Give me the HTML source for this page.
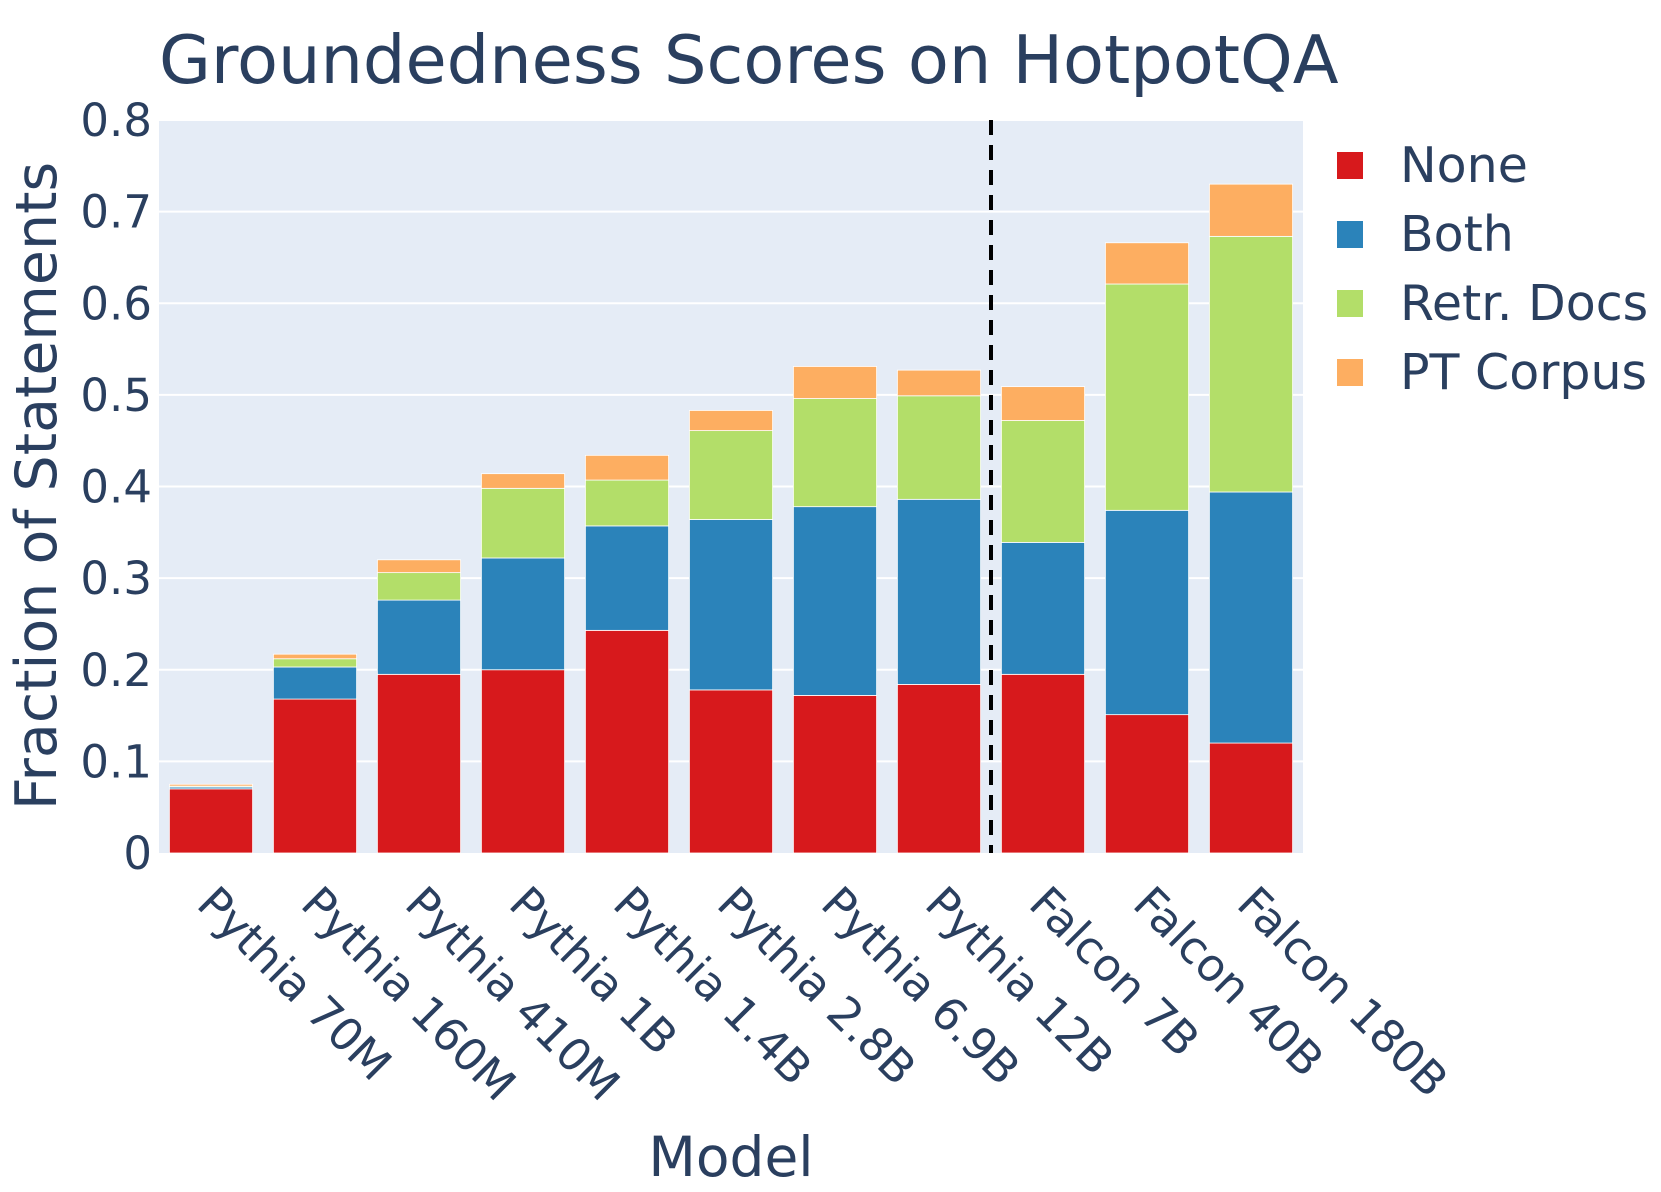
<!DOCTYPE html>
<html><head><meta charset="utf-8"><style>
body{margin:0;background:#fff;}
svg text{font-family:"DejaVu Sans","Liberation Sans",sans-serif;fill:#2a3f5f;}
</style></head><body>
<svg id="chart" width="1661" height="1187" xmlns="http://www.w3.org/2000/svg">
<rect width="1661" height="1187" fill="#fff"/>
<text x="159" y="83" font-size="67">Groundedness Scores on HotpotQA</text>
<rect x="159" y="120" width="1144" height="733" fill="#e5ecf6"/>
<g id="grid"></g><g id="bars"></g><g id="xt"></g>
<line x1="991" x2="991" y1="120" y2="853" stroke="#000" stroke-width="4" stroke-dasharray="15,10"/>
<text transform="translate(56,486) rotate(-90)" text-anchor="middle" font-size="57">Fraction of Statements</text>
<text x="731" y="1176" text-anchor="middle" font-size="55">Model</text>
<g id="legend"></g>
</svg>
<script>
const categories=["Pythia 70M","Pythia 160M","Pythia 410M","Pythia 1B","Pythia 1.4B","Pythia 2.8B","Pythia 6.9B","Pythia 12B","Falcon 7B","Falcon 40B","Falcon 180B"];
const noneVals=[0.070,0.168,0.195,0.200,0.243,0.178,0.172,0.184,0.195,0.151,0.120];
const bothVals=[0.002,0.035,0.081,0.122,0.114,0.186,0.206,0.202,0.144,0.223,0.274];
const retrVals=[0.001,0.009,0.030,0.076,0.050,0.097,0.118,0.113,0.133,0.247,0.279];
const ptVals=[0.002,0.005,0.014,0.016,0.027,0.022,0.035,0.028,0.037,0.045,0.057];
const seriesNames=["None","Both","Retr. Docs","PT Corpus"];
const yTicks=[0,0.1,0.2,0.3,0.4,0.5,0.6,0.7,0.8];
const yTickLabels=["0","0.1","0.2","0.3","0.4","0.5","0.6","0.7","0.8"];
const colors=["#d7191c","#2b83ba","#b3de69","#fdae61"];
const NS="http://www.w3.org/2000/svg";
const X0=159,W=1144,Y0=853,H=733,YMAX=0.8;
const band=W/categories.length;
const y=v=>Y0-v/YMAX*H;
const xc=i=>X0+band*(i+0.5);
function mk(tag,attrs,parent){const e=document.createElementNS(NS,tag);for(const k in attrs)e.setAttribute(k,attrs[k]);parent.appendChild(e);return e;}
const grid=document.getElementById('grid');
yTicks.forEach((t,i)=>{
  if(t>0){const l=mk('line',{x1:X0,x2:X0+W,y1:y(t),y2:y(t),stroke:'#fff','stroke-width':2},grid);
  
  }
  const tx=mk('text',{x:X0-7,y:y(t)+16,'text-anchor':'end','font-size':45},grid);
  
  
  tx.textContent=yTickLabels[i];
});
const bars=document.getElementById('bars');
const series=[noneVals,bothVals,retrVals,ptVals];
const bw=band*0.8;
categories.forEach((c,i)=>{
  let base=0;
  series.forEach((s,k)=>{
    const v=s[i];
    const r=mk('rect',{x:xc(i)-bw/2,y:y(base+v),width:bw,height:y(base)-y(base+v),fill:colors[k],stroke:'#fff','stroke-width':0.8},bars);
    
    
    base+=v;
  });
  const t=mk('text',{transform:`translate(${xc(i)-16},${Y0+53}) rotate(45)`,'font-size':45},document.getElementById('xt'));
  
  
  t.textContent=c;
});
const lg=document.getElementById('legend');
seriesNames.forEach((n,k)=>{
  const cy=165+k*69;
  const r=mk('rect',{x:1337,y:cy-13,width:26,height:27,fill:colors[k]},lg);
  
  
  const t=mk('text',{x:1400,y:cy+17,'font-size':49},lg);
  
  
  t.textContent=n;
});
</script>
</body></html>
